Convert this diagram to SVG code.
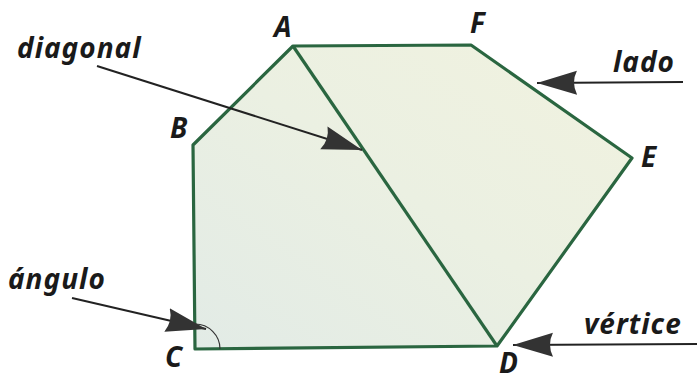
<svg xmlns="http://www.w3.org/2000/svg" width="697" height="380" viewBox="0 0 697 380">
<defs>
<linearGradient id="fillg" x1="0" y1="1" x2="1" y2="0">
<stop offset="0" stop-color="#e2ebe6"/>
<stop offset="0.5" stop-color="#ebf0e2"/>
<stop offset="1" stop-color="#f1f2df"/>
</linearGradient>
<marker id="ah" markerUnits="userSpaceOnUse" markerWidth="44" markerHeight="26" refX="40" refY="12" orient="auto">
<path d="M0,0 L40,12 L0,24 Q6,12 0,0 Z" fill="#333"/>
</marker>
<style>
.shape{fill:url(#fillg);stroke:#2a6640;stroke-width:3.2;stroke-linejoin:round}
.edge{fill:none;stroke:#2a6640;stroke-width:3.2}
.conn{fill:none;stroke:#222;stroke-width:2;marker-end:url(#ah)}
.lbl{font-family:"Noto Sans","DejaVu Sans",sans-serif;font-style:italic;font-weight:bold;font-size:28px;letter-spacing:1px;fill:#1a1a1a}
.vtx{font-family:"Noto Sans","DejaVu Sans",sans-serif;font-style:italic;font-weight:bold;font-size:28px;fill:#1a1a1a}
</style>
</defs>
<rect width="697" height="380" fill="#fff"/>
<g id="hexagon">
<polygon class="shape" points="293,46 471,45 632,158 497,346 195,349 193,145"/>
<line class="edge" x1="293" y1="46" x2="497" y2="346"/>
<path d="M195,324 A25,25 0 0 1 220,349" fill="none" stroke="#333" stroke-width="1.2"/>
</g>
<g id="vertex-labels">
<text class="vtx" x="274" y="37">A</text>
<text class="vtx" x="470" y="33">F</text>
<text class="vtx" x="641" y="167">E</text>
<text class="vtx" x="499" y="373">D</text>
<text class="vtx" x="165" y="367">C</text>
<text class="vtx" x="170" y="138">B</text>
</g>
<g id="connectors">
<line class="conn" x1="97" y1="66" x2="362" y2="150"/>
<line class="conn" x1="683" y1="82" x2="537" y2="83"/>
<line class="conn" x1="697" y1="344" x2="513" y2="345"/>
<line class="conn" x1="72" y1="298" x2="206" y2="329"/>
</g>
<g id="term-labels">
<text class="lbl" x="17" y="58">diagonal</text>
<text class="lbl" x="613" y="72">lado</text>
<text class="lbl" x="584" y="334">vértice</text>
<text class="lbl" x="8" y="289">ángulo</text>
</g>
</svg>
